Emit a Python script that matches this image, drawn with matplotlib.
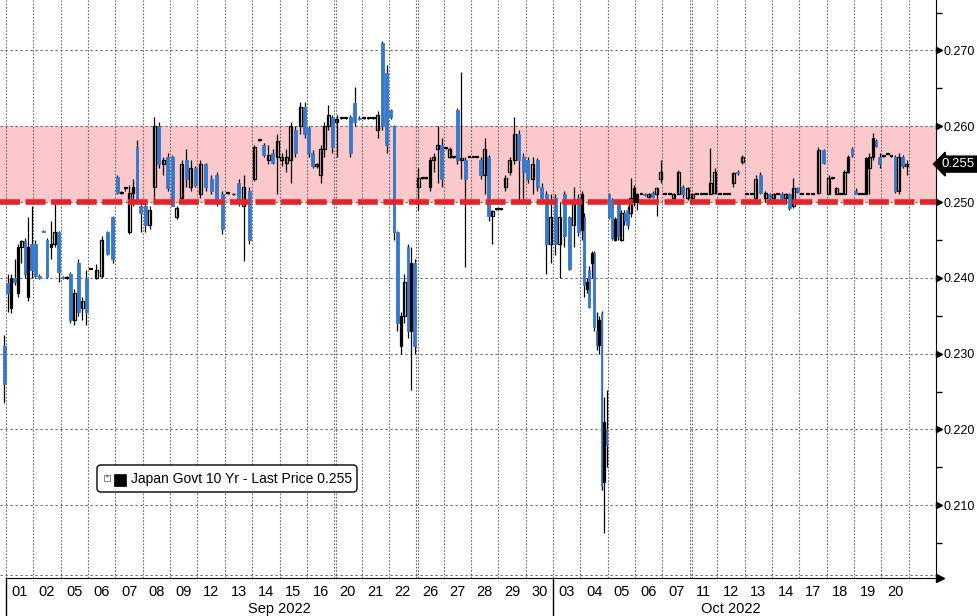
import matplotlib
matplotlib.use("Agg")
import matplotlib.pyplot as plt
from matplotlib import font_manager
from matplotlib.patches import FancyBboxPatch, Rectangle
from matplotlib.transforms import offset_copy, blended_transform_factory
import numpy as np

# trading days shown on the x axis
day_labels = ["01", "02", "05", "06", "07", "08", "09", "12", "13", "14", "15", "16",
              "20", "21", "22", "26", "27", "28", "29", "30",
              "03", "04", "05", "06", "07", "11", "12", "13", "14", "17", "18", "19", "20"]
month_labels = ["Sep 2022", "Oct 2022"]
month_first_day = [0, 20]
month_last_day = [20, 33]
weekend_gaps = [12, 15, 25]

bars_per_day = [8, 7, 7, 5, 7, 6, 6, 5, 5, 6, 6, 7, 6, 6, 8, 7, 7, 7, 6, 6,
                6, 11, 9, 7, 6, 6, 6, 6, 7, 5, 7, 8, 7]

# intraday bars: open, high, low, close
ohlc_bars = [
    # Sep 01
    (0.2393, 0.2405, 0.2355, 0.2380), (0.2360, 0.2405, 0.2354, 0.2400), (0.2400, 0.2425, 0.2390, 0.2395),
    (0.2380, 0.2445, 0.2375, 0.2440), (0.2440, 0.2450, 0.2420, 0.2448), (0.2448, 0.2452, 0.2400, 0.2405),
    (0.2375, 0.2480, 0.2370, 0.2440), (0.2445, 0.2495, 0.2400, 0.2410),
    # Sep 02
    (0.2445, 0.2450, 0.2400, 0.2402), (0.2402, 0.2405, 0.2398, 0.2400), (0.2462, 0.2463, 0.2460, 0.2461),
    (0.2450, 0.2452, 0.2400, 0.2401), (0.2440, 0.2475, 0.2425, 0.2445), (0.2445, 0.2498, 0.2440, 0.2460),
    (0.2460, 0.2462, 0.2395, 0.2408),
    # Sep 05
    (0.2401, 0.2402, 0.2399, 0.2400), (0.2400, 0.2402, 0.2398, 0.2401), (0.2405, 0.2408, 0.2340, 0.2345),
    (0.2345, 0.2385, 0.2338, 0.2380), (0.2420, 0.2425, 0.2350, 0.2355), (0.2360, 0.2375, 0.2345, 0.2370),
    (0.2400, 0.2410, 0.2338, 0.2355),
    # Sep 06
    (0.2412, 0.2413, 0.2411, 0.2412), (0.2400, 0.2418, 0.2398, 0.2410), (0.2402, 0.2455, 0.2400, 0.2450),
    (0.2460, 0.2462, 0.2430, 0.2432), (0.2480, 0.2482, 0.2420, 0.2425),
    # Sep 07
    (0.2533, 0.2535, 0.2510, 0.2512), (0.2512, 0.2514, 0.2511, 0.2513), (0.2518, 0.2520, 0.2515, 0.2518),
    (0.2460, 0.2522, 0.2458, 0.2512), (0.2512, 0.2530, 0.2495, 0.2520), (0.2573, 0.2582, 0.2500, 0.2503),
    (0.2495, 0.2500, 0.2460, 0.2485),
    # Sep 08
    (0.2495, 0.2500, 0.2460, 0.2470), (0.2470, 0.2495, 0.2465, 0.2490), (0.2520, 0.2612, 0.2500, 0.2600),
    (0.2600, 0.2605, 0.2545, 0.2550), (0.2550, 0.2560, 0.2535, 0.2555), (0.2560, 0.2565, 0.2515, 0.2518),
    # Sep 09
    (0.2560, 0.2562, 0.2495, 0.2495), (0.2480, 0.2495, 0.2478, 0.2492), (0.2505, 0.2555, 0.2500, 0.2550),
    (0.2555, 0.2570, 0.2520, 0.2530), (0.2520, 0.2555, 0.2515, 0.2545), (0.2545, 0.2548, 0.2520, 0.2522),
    # Sep 12
    (0.2510, 0.2555, 0.2505, 0.2550), (0.2550, 0.2552, 0.2515, 0.2520), (0.2530, 0.2535, 0.2510, 0.2515),
    (0.2535, 0.2540, 0.2495, 0.2500), (0.2510, 0.2515, 0.2458, 0.2465),
    # Sep 13
    (0.2512, 0.2513, 0.2511, 0.2512), (0.2510, 0.2512, 0.2509, 0.2511), (0.2525, 0.2530, 0.2495, 0.2500),
    (0.2495, 0.2535, 0.2422, 0.2520), (0.2515, 0.2520, 0.2445, 0.2450),
    # Sep 14
    (0.2530, 0.2575, 0.2528, 0.2572), (0.2582, 0.2583, 0.2581, 0.2582), (0.2575, 0.2578, 0.2560, 0.2562),
    (0.2555, 0.2575, 0.2550, 0.2562), (0.2565, 0.2570, 0.2550, 0.2552), (0.2560, 0.2590, 0.2510, 0.2580),
    # Sep 15
    (0.2555, 0.2565, 0.2548, 0.2560), (0.2552, 0.2570, 0.2540, 0.2560), (0.2555, 0.2605, 0.2525, 0.2600),
    (0.2595, 0.2600, 0.2560, 0.2565), (0.2600, 0.2632, 0.2590, 0.2625), (0.2625, 0.2632, 0.2585, 0.2590),
    # Sep 16
    (0.2598, 0.2600, 0.2560, 0.2565), (0.2565, 0.2568, 0.2545, 0.2548), (0.2548, 0.2552, 0.2545, 0.2550),
    (0.2535, 0.2575, 0.2525, 0.2570), (0.2570, 0.2605, 0.2560, 0.2600), (0.2600, 0.2628, 0.2595, 0.2615),
    (0.2612, 0.2615, 0.2565, 0.2572),
    # Sep 20
    (0.2605, 0.2615, 0.2560, 0.2610), (0.2611, 0.2612, 0.2610, 0.2611), (0.2611, 0.2612, 0.2610, 0.2611),
    (0.2612, 0.2615, 0.2560, 0.2565), (0.2630, 0.2652, 0.2600, 0.2605), (0.2611, 0.2613, 0.2608, 0.2610),
    # Sep 21
    (0.2611, 0.2612, 0.2610, 0.2611), (0.2611, 0.2612, 0.2610, 0.2611), (0.2611, 0.2612, 0.2610, 0.2611),
    (0.2595, 0.2620, 0.2585, 0.2615), (0.2710, 0.2712, 0.2595, 0.2600), (0.2670, 0.2681, 0.2565, 0.2575),
    # Sep 22
    (0.2622, 0.2623, 0.2610, 0.2612), (0.2600, 0.2602, 0.2450, 0.2460), (0.2460, 0.2462, 0.2330, 0.2340),
    (0.2310, 0.2355, 0.2300, 0.2350), (0.2350, 0.2405, 0.2340, 0.2395), (0.2440, 0.2445, 0.2320, 0.2330),
    (0.2330, 0.2440, 0.2252, 0.2420), (0.2420, 0.2425, 0.2300, 0.2310),
    # Sep 26
    (0.2520, 0.2545, 0.2490, 0.2532), (0.2532, 0.2533, 0.2531, 0.2532), (0.2532, 0.2533, 0.2531, 0.2532),
    (0.2520, 0.2560, 0.2515, 0.2555), (0.2555, 0.2565, 0.2540, 0.2560), (0.2570, 0.2600, 0.2525, 0.2575),
    (0.2575, 0.2585, 0.2520, 0.2530),
    # Sep 27
    (0.2571, 0.2572, 0.2570, 0.2571), (0.2560, 0.2572, 0.2558, 0.2570), (0.2559, 0.2560, 0.2558, 0.2559),
    (0.2622, 0.2624, 0.2550, 0.2555), (0.2555, 0.2672, 0.2530, 0.2558), (0.2555, 0.2560, 0.2414, 0.2530),
    (0.2560, 0.2561, 0.2559, 0.2560),
    # Sep 28
    (0.2560, 0.2561, 0.2559, 0.2560), (0.2560, 0.2561, 0.2559, 0.2560), (0.2555, 0.2560, 0.2530, 0.2535),
    (0.2535, 0.2585, 0.2510, 0.2570), (0.2560, 0.2562, 0.2475, 0.2482), (0.2482, 0.2490, 0.2445, 0.2488),
    (0.2491, 0.2492, 0.2490, 0.2491),
    # Sep 29
    (0.2491, 0.2492, 0.2490, 0.2491), (0.2520, 0.2535, 0.2515, 0.2532), (0.2540, 0.2560, 0.2535, 0.2555),
    (0.2555, 0.2612, 0.2550, 0.2590), (0.2590, 0.2595, 0.2500, 0.2555), (0.2560, 0.2565, 0.2500, 0.2540),
    # Sep 30
    (0.2555, 0.2560, 0.2525, 0.2530), (0.2530, 0.2560, 0.2510, 0.2550), (0.2555, 0.2558, 0.2515, 0.2520),
    (0.2520, 0.2525, 0.2500, 0.2505), (0.2510, 0.2515, 0.2405, 0.2445), (0.2445, 0.2510, 0.2420, 0.2480),
    # Oct 03
    (0.2505, 0.2510, 0.2430, 0.2445), (0.2445, 0.2500, 0.2400, 0.2480), (0.2510, 0.2515, 0.2440, 0.2455),
    (0.2480, 0.2482, 0.2410, 0.2412), (0.2470, 0.2520, 0.2440, 0.2500), (0.2505, 0.2510, 0.2455, 0.2460),
    # Oct 04
    (0.2463, 0.2515, 0.2450, 0.2510), (0.2480, 0.2485, 0.2375, 0.2390), (0.2385, 0.2400, 0.2380, 0.2395),
    (0.2410, 0.2415, 0.2360, 0.2362), (0.2420, 0.2435, 0.2400, 0.2433), (0.2433, 0.2435, 0.2330, 0.2335),
    (0.2330, 0.2355, 0.2305, 0.2312), (0.2312, 0.2350, 0.2300, 0.2345), (0.2354, 0.2356, 0.2120, 0.2125),
    (0.2130, 0.2243, 0.2063, 0.2210), (0.2200, 0.2252, 0.2150, 0.2180),
    # Oct 05
    (0.2510, 0.2512, 0.2478, 0.2480), (0.2503, 0.2505, 0.2450, 0.2452), (0.2450, 0.2480, 0.2448, 0.2478),
    (0.2497, 0.2500, 0.2450, 0.2455), (0.2450, 0.2490, 0.2448, 0.2485), (0.2485, 0.2490, 0.2470, 0.2475),
    (0.2490, 0.2495, 0.2465, 0.2470), (0.2485, 0.2532, 0.2480, 0.2505), (0.2500, 0.2522, 0.2495, 0.2518),
    # Oct 06
    (0.2500, 0.2512, 0.2490, 0.2510), (0.2511, 0.2512, 0.2510, 0.2511), (0.2511, 0.2512, 0.2508, 0.2509),
    (0.2507, 0.2512, 0.2505, 0.2511), (0.2512, 0.2514, 0.2505, 0.2506), (0.2510, 0.2520, 0.2482, 0.2518),
    (0.2530, 0.2555, 0.2525, 0.2540),
    # Oct 07
    (0.2511, 0.2512, 0.2510, 0.2511), (0.2511, 0.2512, 0.2510, 0.2511), (0.2505, 0.2512, 0.2503, 0.2511),
    (0.2511, 0.2542, 0.2510, 0.2540), (0.2520, 0.2522, 0.2505, 0.2510), (0.2505, 0.2520, 0.2502, 0.2518),
    # Oct 11
    (0.2505, 0.2512, 0.2503, 0.2510), (0.2511, 0.2512, 0.2510, 0.2511), (0.2511, 0.2512, 0.2510, 0.2511),
    (0.2511, 0.2512, 0.2510, 0.2511), (0.2511, 0.2571, 0.2510, 0.2525), (0.2512, 0.2545, 0.2510, 0.2540),
    # Oct 12
    (0.2511, 0.2512, 0.2510, 0.2511), (0.2511, 0.2512, 0.2510, 0.2511), (0.2511, 0.2512, 0.2510, 0.2511),
    (0.2525, 0.2540, 0.2520, 0.2538), (0.2540, 0.2542, 0.2536, 0.2538), (0.2553, 0.2562, 0.2550, 0.2560),
    # Oct 13
    (0.2511, 0.2512, 0.2510, 0.2511), (0.2511, 0.2512, 0.2510, 0.2511), (0.2505, 0.2535, 0.2502, 0.2530),
    (0.2535, 0.2540, 0.2510, 0.2512), (0.2505, 0.2515, 0.2500, 0.2512), (0.2510, 0.2512, 0.2502, 0.2505),
    # Oct 14
    (0.2505, 0.2512, 0.2502, 0.2511), (0.2511, 0.2512, 0.2510, 0.2511), (0.2511, 0.2513, 0.2503, 0.2505),
    (0.2505, 0.2512, 0.2498, 0.2510), (0.2510, 0.2512, 0.2490, 0.2492), (0.2495, 0.2532, 0.2492, 0.2518),
    (0.2518, 0.2520, 0.2512, 0.2513),
    # Oct 17
    (0.2511, 0.2512, 0.2510, 0.2511), (0.2511, 0.2512, 0.2510, 0.2511), (0.2511, 0.2512, 0.2510, 0.2511),
    (0.2512, 0.2572, 0.2510, 0.2568), (0.2568, 0.2570, 0.2550, 0.2552),
    # Oct 18
    (0.2511, 0.2535, 0.2510, 0.2532), (0.2532, 0.2533, 0.2531, 0.2532), (0.2511, 0.2520, 0.2510, 0.2518),
    (0.2511, 0.2512, 0.2510, 0.2511), (0.2511, 0.2542, 0.2510, 0.2540), (0.2540, 0.2562, 0.2538, 0.2560),
    (0.2570, 0.2572, 0.2560, 0.2562),
    # Oct 19
    (0.2515, 0.2518, 0.2510, 0.2511), (0.2511, 0.2512, 0.2510, 0.2511), (0.2511, 0.2512, 0.2510, 0.2511),
    (0.2511, 0.2560, 0.2510, 0.2558), (0.2545, 0.2565, 0.2510, 0.2560), (0.2560, 0.2591, 0.2555, 0.2585),
    (0.2580, 0.2583, 0.2572, 0.2574), (0.2560, 0.2565, 0.2545, 0.2550),
    # Oct 20
    (0.2561, 0.2562, 0.2560, 0.2561), (0.2564, 0.2565, 0.2563, 0.2564), (0.2561, 0.2562, 0.2560, 0.2561),
    (0.2560, 0.2562, 0.2512, 0.2515), (0.2515, 0.2565, 0.2510, 0.2560), (0.2560, 0.2562, 0.2545, 0.2548),
    (0.2548, 0.2555, 0.2535, 0.2550),
]
prev_session_bar = (0.2310, 0.2325, 0.2235, 0.2260)  # tail of 31 Aug

last_price = 0.255
band_low, band_high = 0.250, 0.260
ytick_values = [0.210, 0.220, 0.230, 0.240, 0.250, 0.260, 0.270]
yminor_values = [0.205, 0.215, 0.225, 0.235, 0.245, 0.255, 0.265, 0.275]
legend_text = "Japan Govt 10 Yr - Last Price 0.255"

# fonts: a narrow sans if present, like the terminal font
names = {f.name for f in font_manager.fontManager.ttflist}
if "Liberation Sans Narrow" in names:
    FONT, FS_X, FS_Y, FS_LEG = "Liberation Sans Narrow", 11, 10.5, 11
else:
    FONT, FS_X, FS_Y, FS_LEG = "Liberation Sans", 10.5, 9, 10
plt.rcParams["font.family"] = [FONT, "DejaVu Sans"]

BLUE = "#3579cc"
PINK = "#fbc8cb"
RED = "#e5232b"
GRID = "#6a6a6a"

W, H = 978, 616
fig = plt.figure(figsize=(W / 100, H / 100), dpi=100)
ax = fig.add_axes([0, 38 / H, 936 / W, 578 / H])

n_days = len(day_labels)
ax.set_xlim(-0.22, n_days + 1.0)
ax.set_ylim(0.2004, 0.27665)

# bar x positions inside each day slot
xs, widths = [], []
for d, n in enumerate(bars_per_day):
    for k in range(n):
        xs.append(d + (k + 0.5) / n)
        widths.append(min(0.11, 0.72 / n))
xs = np.array(xs)
widths = np.array(widths)
o, h, l, c = np.array(ohlc_bars).T

# previous session's last bar sits just left of the first day
xs = np.concatenate([[-0.55 / bars_per_day[0]], xs])
widths = np.concatenate([[0.11], widths])
o = np.concatenate([[prev_session_bar[0]], o])
h = np.concatenate([[prev_session_bar[1]], h])
l = np.concatenate([[prev_session_bar[2]], l])
c = np.concatenate([[prev_session_bar[3]], c])

# shaded 0.25-0.26 band
ax.axhspan(band_low, band_high, color=PINK, lw=0, zorder=0)

# grid
for g in range(n_days + 1):
    ax.axvline(g, color=GRID, lw=0.8, ls=(0, (1.5, 1.5)), zorder=1)
for g in weekend_gaps:
    ax.axvline(g + 0.08, color=GRID, lw=0.8, ls=(0, (1.5, 1.5)), zorder=1)
for v in ytick_values:
    ax.axhline(v, color=GRID, lw=0.8, ls=(0, (2, 2.5)), zorder=1)
ax.axhline(ax.get_ylim()[0] + 0.0004, color=GRID, lw=0.8, ls=(0, (2, 2.5)), zorder=1)

# candles
up = c >= o
body_lo = np.minimum(o, c)
body_h = np.maximum(np.abs(c - o), 0.00012)
ax.vlines(xs, l, h, color="black", lw=0.9, zorder=3)
ax.bar(xs[~up], body_h[~up], widths[~up], bottom=body_lo[~up], facecolor=BLUE,
       edgecolor=BLUE, lw=0.6, zorder=4)
ax.bar(xs[up], body_h[up], widths[up], bottom=body_lo[up], facecolor="none",
       edgecolor="black", lw=0.9, zorder=4)

# red dashed floor
ax.axhline(band_low, color=RED, lw=4, ls=(0, (3.6, 1.0)), zorder=5)

# spines
for s in ["top", "left"]:
    ax.spines[s].set_visible(False)
ax.spines["right"].set_color("black")
ax.spines["bottom"].set_color("black")
ax.spines["bottom"].set_bounds(0, ax.get_xlim()[1])

# x ticks: day numbers
ax.set_xticks(np.arange(n_days) + 0.5)
ax.set_xticklabels(day_labels, fontsize=FS_X)
ax.tick_params(axis="x", length=0, pad=5)
xform = ax.get_xaxis_transform()
for lab, a, b in zip(month_labels, month_first_day, month_last_day):
    ax.text((a + b) / 2, -0.053, lab, transform=xform, ha="center", va="center",
            fontsize=FS_X)
    ax.plot([a, a], [0, -0.07], transform=xform, color="black", lw=1, clip_on=False)

# y ticks on the right with arrow markers
ax.yaxis.tick_right()
ax.set_yticks(ytick_values)
ax.set_yticklabels([f"{v:.3f}" for v in ytick_values], fontsize=FS_Y)
ax.set_yticks(yminor_values, minor=True)
ax.tick_params(axis="y", which="major", length=0, pad=5.5)
ax.tick_params(axis="y", which="minor", length=4, width=1, direction="out")
yform = offset_copy(ax.get_yaxis_transform(), fig=fig, x=3.5, units="dots")
ax.plot([1.0] * len(ytick_values), ytick_values, ls="none", marker=">", ms=5,
        color="black", transform=yform, clip_on=False)
ax.plot([1.0], [0.0], ls="none", marker=">", ms=6, color="black",
        transform=offset_copy(ax.transAxes, fig=fig, x=4, units="dots"), clip_on=False)

# last price tag, flush with the right edge of the figure
tag_form = blended_transform_factory(fig.transFigure, ax.transData)
ax.text(975 / W, last_price, f"{last_price:.3f}", transform=tag_form, ha="right",
        va="center", color="white", fontsize=9.5, clip_on=False,
        bbox=dict(boxstyle="larrow,pad=0.15", fc="black", ec="black"))

# legend box
fig.patches.append(FancyBboxPatch((97 / W, 1 - 492 / H), 260 / W, 27 / H,
                                  boxstyle="round,pad=0,rounding_size=0.004",
                                  transform=fig.transFigure, fc="white", ec="black",
                                  lw=1, mutation_aspect=W / H))
fig.patches.append(Rectangle((104 / W, 1 - 481 / H), 6 / W, 6 / H, transform=fig.transFigure,
                             fc="white", ec="#888888", lw=0.7))
fig.text(107 / W, 1 - 478 / H, "+", fontsize=5.5, color="#666666", ha="center", va="center")
fig.patches.append(Rectangle((114 / W, 1 - 486 / H), 12 / W, 12 / H, transform=fig.transFigure,
                             fc="black", ec="black", lw=0.5))
fig.text(131 / W, 1 - 479 / H, legend_text, fontsize=FS_LEG, color="black",
         ha="left", va="center")

fig.savefig("out.png", dpi=100)
